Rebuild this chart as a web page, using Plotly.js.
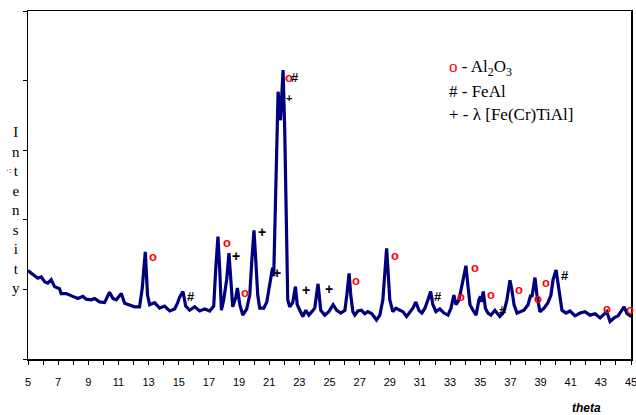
<!DOCTYPE html>
<html><head><meta charset="utf-8">
<script src="https://cdn.plot.ly/plotly-3.0.1.min.js"></script>
<style>html,body{margin:0;padding:0;background:#fff}#chart{width:636px;height:415px}</style>
</head><body><div id="chart"></div>
<script>
// XRD pattern (theta vs intensity, arbitrary units)
const theta = [5.00,5.32,5.65,5.88,6.10,6.31,6.54,6.76,7.09,7.20,7.54,7.97,8.31,8.64,8.86,9.20,9.42,9.75,10.08,10.41,10.63,10.86,11.19,11.41,11.74,12.07,12.40,12.58,12.78,12.93,13.07,13.40,13.73,14.06,14.40,14.73,14.93,15.06,15.28,15.46,15.72,16.06,16.39,16.72,17.05,17.32,17.45,17.60,17.72,17.83,17.98,18.18,18.33,18.45,18.58,18.78,18.89,19.05,19.25,19.51,19.71,19.85,19.99,20.11,20.24,20.37,20.64,20.84,21.04,21.22,21.30,21.44,21.59,21.75,21.92,22.03,22.13,22.23,22.36,22.56,22.74,22.86,23.03,23.23,23.43,23.63,23.83,24.02,24.24,24.42,24.69,24.95,25.24,25.48,25.75,26.02,26.15,26.30,26.41,26.55,26.68,26.88,27.12,27.34,27.54,27.81,28.12,28.34,28.54,28.67,28.79,28.90,29.00,29.20,29.40,29.67,29.87,30.11,30.33,30.53,30.73,30.93,31.13,31.33,31.53,31.71,31.86,32.06,32.32,32.59,32.86,33.06,33.25,33.39,33.59,33.78,33.92,34.05,34.18,34.32,34.52,34.72,34.91,35.01,35.08,35.20,35.34,35.51,35.71,35.97,36.30,36.57,36.77,36.97,37.10,37.24,37.44,37.64,37.90,38.17,38.35,38.43,38.63,38.76,38.96,39.23,39.49,39.69,39.83,40.03,40.16,40.29,40.42,40.69,40.95,41.29,41.62,41.95,42.28,42.62,42.95,43.15,43.39,43.61,43.88,44.14,44.34,44.54,44.74,44.94,45.00];
const intensity = [127,121,116,118,111,109,114,104,101,94,94,90,87,90,86,85,87,82,81,96,87,85,94,80,78,75,75,102,154,92,78,81,73,76,69,72,81,89,97,76,70,75,69,72,69,76,128,176,128,70,85,114,152,106,75,88,102,78,63,72,92,142,185,142,92,73,73,82,106,131,119,243,384,343,415,329,185,85,75,81,104,78,70,61,70,63,68,73,108,70,63,68,78,70,66,70,92,123,92,68,63,69,70,65,68,65,56,63,85,128,159,121,85,68,73,70,68,61,68,73,82,70,66,73,85,97,78,68,72,66,63,73,92,78,85,106,125,134,106,78,70,63,85,90,82,97,73,66,63,70,61,68,85,113,99,78,66,68,70,78,92,89,117,92,68,73,81,92,114,128,106,85,70,66,69,62,66,68,63,65,59,63,68,54,59,62,68,75,65,62,63];

// Phase markers placed above peaks
const alTheta = [13.29,18.23,19.38,22.32,26.79,29.34,33.72,34.65,35.69,37.59,38.85,39.36,43.43,44.94];
const alInt   = [147,167,95,405,113,149,90,131,92,100,87,110,73,71];
const feTheta = [15.79,22.70,32.21,36.53,40.62];
const feInt   = [90,405,90,70,120];
const laTheta = [18.78,20.49,21.52,23.41,24.95];
const laInt   = [148,183,123,99,100];
const laSmallTheta = [22.32];
const laSmallInt   = [375];
const xTicks = [5,7,9,11,13,15,17,19,21,23,25,27,29,31,33,35,37,39,41,43,45];

const ann = [];
function addMarks(xs, ys, txt, color, size){
  xs.forEach((x,i)=>ann.push({x:x, y:ys[i], xref:'x', yref:'y', text:txt, showarrow:false,
    xanchor:'center', yanchor:'middle',
    font:{family:'Liberation Sans, Arial, sans-serif', size:size, color:color, weight:'bold'}}));
}
addMarks(alTheta, alInt, 'o', '#ff0000', 13);
addMarks(feTheta, feInt, '#', '#000000', 13);
addMarks(laTheta, laInt, '+', '#000000', 14);
addMarks(laSmallTheta, laSmallInt, '+', '#000000', 11);

const serif = 'Liberation Serif, Times New Roman, serif';
ann.push({xref:'paper', yref:'paper', x:0.695, y:0.836, xanchor:'left', yanchor:'middle', showarrow:false,
  text:'<span style="color:#ff0000">o</span> - Al<sub>2</sub>O<sub>3</sub>', font:{family:serif, size:17, color:'#000'}});
ann.push({xref:'paper', yref:'paper', x:0.695, y:0.770, xanchor:'left', yanchor:'middle', showarrow:false,
  text:'# - FeAl', font:{family:serif, size:17, color:'#000'}});
ann.push({xref:'paper', yref:'paper', x:0.695, y:0.704, xanchor:'left', yanchor:'middle', showarrow:false,
  text:'+ - λ [Fe(Cr)TiAl]', font:{family:serif, size:17, color:'#000'}});
ann.push({xref:'paper', yref:'paper', x:-0.0199, y:0.428, xanchor:'center', yanchor:'middle', showarrow:false,
  text:'I<br>n<br>t<br>e<br>n<br>s<br>i<br>t<br>y', font:{family:serif, size:15, color:'#000'}});
ann.push({xref:'paper', yref:'paper', x:-0.032, y:0.542, xanchor:'center', yanchor:'middle', showarrow:false,
  text:'·:', font:{family:serif, size:9, color:'#000'}});
ann.push({xref:'paper', yref:'paper', x:0.927, y:-0.14, xanchor:'center', yanchor:'middle', showarrow:false,
  text:'<b><i>theta</i></b>', font:{family:'Liberation Sans, Arial, sans-serif', size:12, color:'#000'}});

const trace = {x:theta, y:intensity, type:'scatter', mode:'lines',
  line:{color:'#00007f', width:3.2}, hoverinfo:'skip'};

const layout = {
  width:636, height:415,
  margin:{l:28, r:5, t:11, b:56},
  paper_bgcolor:'#fff', plot_bgcolor:'#fff',
  showlegend:false,
  xaxis:{range:[5,45], tickvals:xTicks, ticktext:xTicks.map(String), ticks:'outside', ticklen:4, tickwidth:1,
    tickcolor:'#000', showline:true, linecolor:'#000', linewidth:1.5, mirror:true, showgrid:false, zeroline:false,
    ticklabelstandoff:8, ticklabeloverflow:'allow',
    minor:{dtick:1, tick0:5, ticks:'outside', ticklen:4, tickcolor:'#000', showgrid:false},
    tickfont:{family:'Liberation Sans Narrow, Liberation Sans, Arial, sans-serif', size:11, color:'#000'}},
  yaxis:{range:[0,500], dtick:100, tick0:0, ticks:'outside', ticklen:4, tickcolor:'#000', showticklabels:false,
    showline:true, linecolor:'#000', linewidth:1.5, mirror:true, showgrid:false, zeroline:false},
  annotations:ann
};
Plotly.newPlot('chart', [trace], layout, {displayModeBar:false, staticPlot:true});
</script></body></html>
